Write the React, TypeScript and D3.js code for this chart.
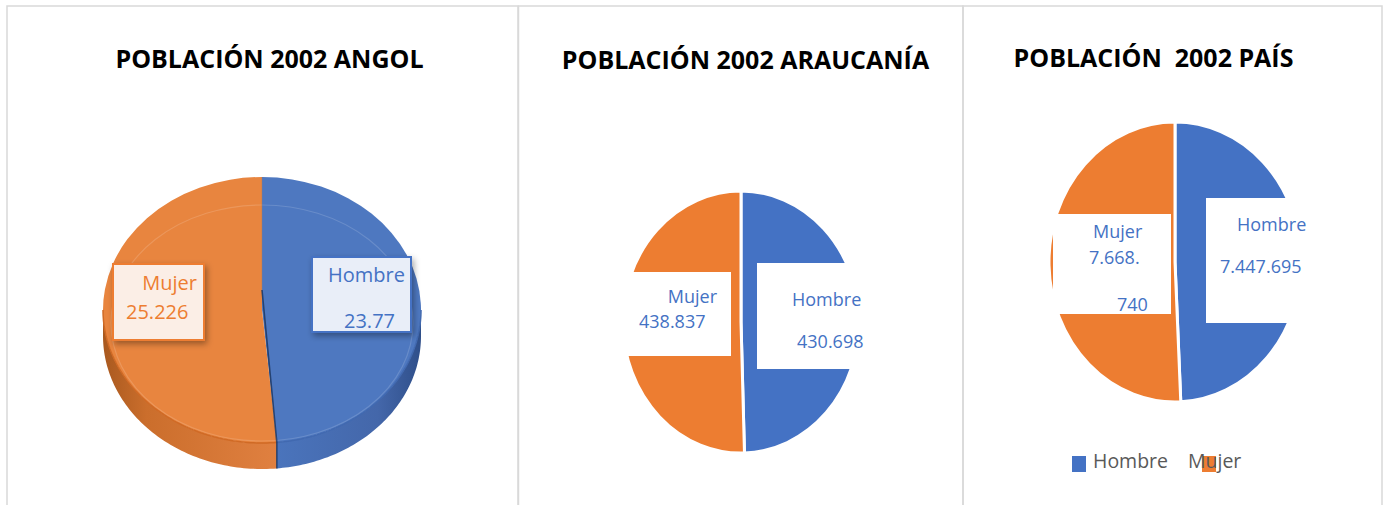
import React from 'react';
import * as d3 from 'd3';

const categories = ['Hombre', 'Mujer'];
const angolValues = [23770, 25226];
const angolLabels = ['23.77', '25.226'];
const araucaniaValues = [430698, 438837];
const araucaniaLabels = ['430.698', '438.837'];
const paisValues = [7447695, 7668740];
const paisLabelLines = [['7.447.695'], ['7.668.', '740']];
const titles = ['POBLACIÓN 2002 ANGOL', 'POBLACIÓN 2002 ARAUCANÍA', 'POBLACIÓN\u00a0\u00a02002 PAÍS'];

const BLUE = '#4472C4';
const ORANGE = '#ED7D31';
const FONT = "'Open Sans', 'DejaVu Sans', sans-serif";

const pieGen = d3.pie<number>().sort(null).startAngle(0).endAngle(2 * Math.PI);

function ellPt(cx: number, cy: number, rx: number, ry: number, a: number): [number, number] {
  return [cx + rx * Math.sin(a), cy - ry * Math.cos(a)];
}

function Pie3D() {
  const cx = 262, cy = 310, rx = 159, ry = 133, depth = 26;
  const arcs = pieGen(angolValues);
  const arc = d3.arc<d3.PieArcDatum<number>>().innerRadius(0).outerRadius(ry);
  const line = d3.line();
  const sidePath = (a0: number, a1: number) => {
    const s = Math.max(a0, Math.PI / 2), e = Math.min(a1, (3 * Math.PI) / 2);
    if (e <= s) return '';
    const n = 80;
    const top = d3.range(n + 1).map(i => ellPt(cx, cy, rx, ry, s + ((e - s) * i) / n));
    const bot = top.slice().reverse().map(([x, y]) => [x, y + depth] as [number, number]);
    return line([...top, ...bot]) + 'Z';
  };
  const edgePath = (a0: number, a1: number) => {
    const s = Math.max(a0, Math.PI / 2), e = Math.min(a1, (3 * Math.PI) / 2);
    if (e <= s) return '';
    const n = 80;
    return line(d3.range(n + 1).map(i => ellPt(cx, cy, rx, ry, s + ((e - s) * i) / n))) || '';
  };
  const split = arcs[0].endAngle;
  const sp = ellPt(cx, cy, rx, ry, split);
  const topFill = ['#4E78C0', '#E8853F'];
  const edgeCol = ['#4169B0', '#D06A25'];
  return (
    <g>
      <defs>
        <linearGradient id="sideO" gradientUnits="userSpaceOnUse" x1={cx - rx} x2={sp[0]} y1={0} y2={0}>
          <stop offset="0" stopColor="#A9591F" />
          <stop offset="0.25" stopColor="#CB6E2C" />
          <stop offset="1" stopColor="#E08040" />
        </linearGradient>
        <linearGradient id="sideB" gradientUnits="userSpaceOnUse" x1={sp[0]} x2={cx + rx} y1={0} y2={0}>
          <stop offset="0" stopColor="#4A74BC" />
          <stop offset="0.7" stopColor="#4467AA" />
          <stop offset="1" stopColor="#2F4F8A" />
        </linearGradient>
        <filter id="shadow" x="-20%" y="-20%" width="150%" height="150%">
          <feDropShadow dx="2" dy="3" stdDeviation="3" floodColor="#000" floodOpacity="0.35" />
        </filter>
      </defs>
      {arcs.map((a, i) => (
        <path key={'s' + i} d={sidePath(a.startAngle, a.endAngle)} fill={i === 0 ? 'url(#sideB)' : 'url(#sideO)'} />
      ))}
      {arcs.map((a, i) => (
        <path key={'t' + i} d={arc(a) || ''} transform={`translate(${cx},${cy}) scale(${rx / ry},1)`} fill={topFill[i]} />
      ))}
      <ellipse cx={cx} cy={cy + 13} rx={rx - 8} ry={ry - 15} fill="none" stroke="#ffffff" strokeOpacity={0.15} strokeWidth={1.2} />
      {arcs.map((a, i) => (
        <path key={'e' + i} d={edgePath(a.startAngle, a.endAngle)} fill="none" stroke={edgeCol[i]} strokeWidth={1.5} />
      ))}
      <path d={`M${cx},${cy - 20} L${sp[0]},${sp[1]} L${sp[0]},${sp[1] + depth}`} fill="none" stroke="#1F3864" strokeWidth={1.6} strokeOpacity={0.85} />
      <line x1={cx} y1={cy - ry} x2={cx} y2={cy - 20} stroke="#9a7a70" strokeWidth={0.8} strokeOpacity={0.6} />
      <g filter="url(#shadow)">
        <rect x={113} y={264} width={91} height={76} fill="#FBEEE6" stroke={ORANGE} strokeWidth={2} />
        <rect x={312} y={257} width={99} height={75} fill="#E9EEF8" stroke={BLUE} strokeWidth={2} />
      </g>
      <text x={197} y={290} textAnchor="end" fill={ORANGE} fontSize={20} fontFamily={FONT}>{categories[1]}</text>
      <text x={126} y={319} fill={ORANGE} fontSize={20} fontFamily={FONT}>{angolLabels[1]}</text>
      <text x={405} y={282} textAnchor="end" fill={BLUE} fontSize={20} fontFamily={FONT}>{categories[0]}</text>
      <text x={344} y={328} fill={BLUE} fontSize={20} fontFamily={FONT}>{angolLabels[0]}</text>
    </g>
  );
}

function Pie2D({ values, cx, cy, rx, ry }: { values: number[]; cx: number; cy: number; rx: number; ry: number }) {
  const arcs = pieGen(values);
  const arc = d3.arc<d3.PieArcDatum<number>>().innerRadius(0).outerRadius(ry);
  return (
    <g transform={`translate(${cx},${cy}) scale(${rx / ry},1)`}>
      {arcs.map((a, i) => (
        <path key={i} d={arc(a) || ''} fill={i === 0 ? BLUE : ORANGE} stroke="#fff" strokeWidth={3} vectorEffect="non-scaling-stroke" />
      ))}
    </g>
  );
}

export default function App() {
  const tStyle = { fontFamily: FONT, fontWeight: 700, fontSize: 25, fill: '#000' } as const;
  const lStyle = { fontFamily: FONT, fontSize: 18, fill: BLUE } as const;
  return (
    <svg width={1388} height={505} style={{ position: 'absolute', left: 0, top: 0, background: '#fff' }}>
      <rect x={0} y={0} width={1388} height={505} fill="#fff" />
      <g fill="none" stroke="#D9D9D9" strokeWidth={1.5}>
        <rect x={7} y={6} width={511} height={520} />
        <rect x={518.5} y={6} width={444.5} height={520} />
        <rect x={963} y={6} width={419} height={520} />
      </g>
      <text x={269.5} y={68} textAnchor="middle" style={tStyle}>{titles[0]}</text>
      <text x={745.5} y={69} textAnchor="middle" style={tStyle}>{titles[1]}</text>
      <text x={1153.5} y={67} textAnchor="middle" style={tStyle}>{titles[2]}</text>

      <Pie3D />

      <Pie2D values={araucaniaValues} cx={741} cy={322} rx={118} ry={131} />
      <rect x={624} y={272} width={107} height={84} fill="#fff" />
      <rect x={757} y={263} width={113} height={106} fill="#fff" />
      <text x={717} y={303} textAnchor="end" style={lStyle}>{categories[1]}</text>
      <text x={639} y={328} style={lStyle}>{araucaniaLabels[1]}</text>
      <text x={792} y={306} style={lStyle}>{categories[0]}</text>
      <text x={797} y={348} style={lStyle}>{araucaniaLabels[0]}</text>

      <Pie2D values={paisValues} cx={1175} cy={262} rx={126} ry={140} />
      <rect x={1053} y={214} width={118} height={100} fill="#fff" />
      <rect x={1206} y={198} width={104} height={125} fill="#fff" />
      <text x={1093} y={238} style={lStyle}>{categories[1]}</text>
      <text x={1089} y={264} style={lStyle}>{paisLabelLines[1][0]}</text>
      <text x={1117} y={311} style={lStyle}>{paisLabelLines[1][1]}</text>
      <text x={1237} y={231} style={lStyle}>{categories[0]}</text>
      <text x={1220} y={273} style={lStyle}>{paisLabelLines[0][0]}</text>

      <rect x={1072} y={456} width={14} height={16} fill={BLUE} />
      <text x={1093} y={468} fontSize={19.5} fontFamily={FONT} fill="#595959">{categories[0]}</text>
      <rect x={1202} y={456} width={14} height={16} fill={ORANGE} />
      <text x={1188} y={468} fontSize={19.5} fontFamily={FONT} fill="#595959">{categories[1]}</text>
    </svg>
  );
}
